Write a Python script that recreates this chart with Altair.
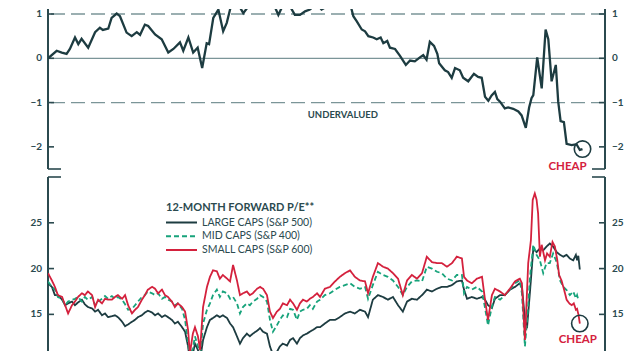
import altair as alt
import pandas as pd

# ---------------- data ----------------
# top panel: relative valuation indicator (z-score)
TOP_YEARS = [
    2004.20, 2004.49, 2004.66, 2004.82, 2004.93, 2005.10, 2005.21, 2005.32, 2005.54, 2005.77,
    2005.93, 2006.03, 2006.21, 2006.32, 2006.49, 2006.60, 2006.82, 2006.99, 2007.16, 2007.27,
    2007.43, 2007.54, 2007.77, 2007.99, 2008.21, 2008.38, 2008.60, 2008.71, 2008.88, 2009.04,
    2009.19, 2009.34, 2009.49, 2009.57, 2009.71, 2009.88, 2010.04, 2010.16, 2010.32, 2010.43,
    2010.71, 2010.88, 2011.16, 2011.43, 2011.71, 2011.88, 2012.04, 2012.27, 2012.43, 2012.60,
    2012.77, 2012.93, 2013.16, 2013.32, 2013.60, 2013.93, 2014.27, 2014.38, 2014.49, 2014.66,
    2014.77, 2014.88, 2015.04, 2015.16, 2015.29, 2015.38, 2015.51, 2015.60, 2015.77, 2015.93,
    2016.13, 2016.27, 2016.43, 2016.60, 2016.71, 2016.82, 2016.93, 2017.07, 2017.18, 2017.24,
    2017.43, 2017.54, 2017.66, 2017.77, 2017.93, 2018.04, 2018.21, 2018.40, 2018.54, 2018.66,
    2018.77, 2018.88, 2018.99, 2019.10, 2019.18, 2019.27, 2019.43, 2019.54, 2019.71, 2019.88,
    2019.99, 2020.13, 2020.24, 2020.32, 2020.38, 2020.51, 2020.66, 2020.79, 2020.88, 2020.99,
    2021.13, 2021.21, 2021.29, 2021.40, 2021.49, 2021.66, 2021.82, 2021.93, 2022.02,
]
TOP_Z = [
    0.00, 0.17, 0.13, 0.10, 0.21, 0.47, 0.32, 0.44, 0.24, 0.59,
    0.69, 0.64, 0.67, 0.91, 1.01, 0.95, 0.58, 0.50, 0.59, 0.53,
    0.76, 0.73, 0.54, 0.43, 0.13, 0.21, 0.36, 0.17, 0.47, 0.13,
    0.24, -0.22, 0.34, 0.32, 0.91, 1.10, 0.61, 0.80, 1.24, 1.35,
    1.02, 1.17, 1.23, 1.30, 1.24, 0.98, 1.21, 1.17, 0.98, 0.98,
    1.06, 1.10, 1.24, 1.10, 1.21, 1.35, 1.24, 0.95, 0.84, 0.65,
    0.61, 0.50, 0.47, 0.43, 0.47, 0.34, 0.39, 0.24, 0.21, 0.06,
    -0.15, -0.05, -0.07, 0.02, 0.07, -0.03, 0.37, 0.28, 0.10, -0.11,
    -0.27, -0.31, -0.44, -0.22, -0.27, -0.44, -0.52, -0.35, -0.42, -0.44,
    -0.87, -0.96, -0.84, -0.76, -0.92, -0.98, -1.13, -1.11, -1.14, -1.20,
    -1.29, -1.57, -1.11, -0.90, -0.83, 0.02, -0.68, 0.65, 0.43, -0.52,
    -0.15, -0.98, -1.42, -1.44, -1.93, -1.96, -1.94, -2.07, -2.05,
]
TOP_TICKS = [-2, -1, 0, 1]
TOP_DOMAIN = [-2.5, 1.113]
ZERO_LEVEL = [0]
BAND_LEVELS = [-1, 1]
BAND_LABELS = ["UNDERVALUED"]
BAND_LABEL_YEAR = [2014.03]
BAND_LABEL_Z = [-1.27]

# bottom panel: 12-month forward P/E
YEARS_A = [
    2004.20, 2004.33, 2004.43, 2004.53, 2004.67, 2004.77, 2004.87, 2005.00, 2005.10, 2005.20,
    2005.33, 2005.43, 2005.53, 2005.67, 2005.77, 2005.87, 2006.00, 2006.10, 2006.20, 2006.33,
    2006.43, 2006.53, 2006.67, 2006.77, 2006.87, 2007.00, 2007.10, 2007.20, 2007.33, 2007.43,
    2007.53, 2007.67, 2007.77, 2007.87, 2008.00, 2008.10, 2008.20, 2008.33, 2008.43, 2008.53,
    2008.67, 2008.77, 2008.87, 2008.93, 2009.03, 2009.10, 2009.20, 2009.27, 2009.37, 2009.50,
    2009.60, 2009.70, 2009.83, 2009.93, 2010.03, 2010.17, 2010.27, 2010.37, 2010.50, 2010.60,
    2010.70, 2010.83, 2010.93, 2011.03, 2011.17, 2011.27, 2011.37, 2011.50, 2011.60, 2011.70,
    2011.83, 2011.93, 2012.03, 2012.17, 2012.27, 2012.37, 2012.50, 2012.60, 2012.70, 2012.83,
    2012.93, 2013.03, 2013.17,
]
YEARS_B = [
    2013.27, 2013.43, 2013.60, 2013.77, 2013.93, 2014.10, 2014.27, 2014.43, 2014.60, 2014.77,
    2014.87, 2015.03, 2015.20, 2015.37, 2015.53, 2015.70, 2015.87, 2016.03, 2016.17, 2016.33,
    2016.50, 2016.67, 2016.83, 2017.00, 2017.17, 2017.33, 2017.50, 2017.67, 2017.83, 2018.00,
    2018.07, 2018.17, 2018.33, 2018.50, 2018.67, 2018.77, 2018.87, 2019.00, 2019.10, 2019.27,
    2019.43, 2019.60, 2019.77, 2019.93, 2020.00,
]
LARGE_A = [
    18.4, 18.0, 17.1, 17.1, 16.6, 16.0, 16.2, 16.4, 16.0, 16.3,
    16.6, 16.1, 15.8, 15.65, 15.3, 15.5, 14.9, 15.1, 14.7, 14.8,
    14.9, 14.7, 14.2, 13.7, 13.9, 14.2, 14.4, 14.7, 14.9, 15.2,
    15.4, 15.2, 14.9, 15.1, 14.7, 14.9, 14.7, 14.4, 14.0, 14.2,
    13.6, 13.1, 11.5, 10.0, 10.7, 11.8, 11.1, 10.0, 12.2, 13.6,
    14.4, 14.6, 14.9, 14.7, 14.9, 14.6, 14.0, 13.6, 12.6, 11.8,
    12.4, 12.9, 12.6, 12.9, 13.2, 13.5, 13.1, 12.9, 11.5, 10.6,
    10.9, 11.5, 11.8, 11.6, 12.2, 12.4, 11.8, 12.4, 12.7, 12.9,
    13.1, 13.3, 13.6,
]
LARGE_B = [
    13.6, 14.0, 14.4, 14.4, 14.7, 15.1, 15.3, 15.1, 15.5, 15.3,
    14.7, 16.6, 17.1, 16.9, 16.6, 16.9, 16.0, 15.3, 16.4, 16.7,
    16.6, 17.1, 17.7, 17.5, 17.8, 18.0, 18.0, 18.2, 18.6, 18.7,
    17.7, 16.7, 16.9, 16.7, 16.9, 16.6, 16.0, 15.7, 16.7, 17.1,
    17.1, 17.7, 18.0, 18.4, 18.0,
]
LARGE_TAIL_YEARS = [
    2020.10, 2020.17, 2020.27, 2020.38, 2020.49, 2020.60, 2020.71, 2020.82, 2020.93, 2021.04,
    2021.16, 2021.27, 2021.38, 2021.49, 2021.60, 2021.71, 2021.80, 2021.84, 2021.88, 2021.93,
]
LARGE_TAIL = [
    14.5, 13.5, 17.5, 22.2, 21.8, 22.2, 22.0, 22.4, 22.75, 22.4,
    21.8, 21.5, 21.3, 21.5, 21.1, 20.9, 21.5, 20.9, 21.4, 19.9,
]
MID_A = [
    18.6, 18.0, 17.7, 16.9, 16.7, 16.0, 16.4, 16.6, 16.7, 16.9,
    16.4, 16.9, 16.6, 16.9, 16.0, 16.4, 16.7, 17.0, 16.7, 17.0,
    16.7, 16.9, 16.6, 16.1, 15.5, 15.6, 16.0, 16.4, 16.9, 17.1,
    17.5, 17.3, 17.1, 17.3, 16.7, 16.9, 16.6, 16.4, 16.0, 16.2,
    15.6, 14.4, 11.8, 10.4, 11.3, 12.6, 11.5, 10.4, 14.0, 15.5,
    16.2, 17.1, 17.7, 16.9, 17.5, 17.3, 16.7, 16.9, 16.2, 15.1,
    15.8, 16.2, 16.0, 16.4, 16.7, 17.1, 16.9, 16.4, 14.4, 13.1,
    13.8, 14.4, 14.9, 14.7, 15.6, 15.5, 14.4, 15.3, 15.5, 15.6,
    16.0, 15.6, 16.4,
]
MID_B = [
    16.6, 17.1, 17.3, 17.7, 18.0, 18.2, 18.4, 18.0, 17.8, 18.0,
    16.7, 18.2, 19.65, 19.3, 19.1, 18.7, 18.0, 17.1, 18.0, 18.6,
    18.7, 18.6, 20.2, 20.0, 19.65, 19.5, 18.9, 18.7, 19.3, 19.3,
    17.3, 18.0, 17.7, 18.0, 17.5, 15.7, 13.8, 15.9, 16.9, 16.6,
    17.1, 17.7, 18.4, 18.7, 17.3,
]
MID_TAIL_YEARS = [
    2020.10, 2020.20, 2020.27, 2020.38, 2020.49, 2020.60, 2020.71, 2020.82, 2020.93, 2021.04,
    2021.16, 2021.27, 2021.38, 2021.49, 2021.60, 2021.71, 2021.80, 2021.84, 2021.88,
]
MID_TAIL = [
    11.5, 15.5, 19.1, 22.6, 21.5, 20.9, 19.5, 20.6, 20.6, 21.65,
    20.7, 18.7, 18.0, 17.65, 17.1, 17.5, 16.75, 17.1, 16.6,
]
SMALL_A = [
    19.5, 18.7, 18.0, 17.1, 16.9, 16.0, 15.1, 16.0, 16.4, 16.9,
    17.3, 17.1, 17.5, 17.1, 15.8, 16.6, 16.2, 16.7, 16.6, 16.6,
    16.9, 17.1, 16.7, 17.1, 16.0, 15.1, 15.5, 15.8, 16.6, 17.1,
    17.7, 18.0, 17.8, 17.3, 17.7, 17.1, 16.9, 16.4, 15.8, 16.2,
    15.8, 15.3, 13.3, 10.7, 12.9, 13.6, 12.6, 11.1, 15.8, 18.0,
    19.1, 19.8, 19.7, 18.9, 19.3, 18.9, 18.6, 20.4, 18.7, 17.1,
    17.3, 17.5, 17.1, 17.3, 17.8, 18.0, 17.8, 17.1, 15.3, 14.6,
    15.3, 15.6, 16.2, 16.0, 16.6, 16.2, 15.5, 16.2, 16.6, 16.4,
    16.7, 16.9, 17.3,
]
SMALL_B = [
    16.9, 17.8, 18.0, 18.6, 19.1, 19.5, 19.8, 19.1, 18.7, 18.6,
    17.3, 19.1, 20.6, 20.2, 20.0, 19.5, 18.9, 17.1, 18.7, 19.3,
    18.9, 19.5, 21.3, 20.7, 20.6, 20.6, 20.2, 20.6, 21.3, 21.1,
    19.1, 18.7, 18.4, 18.9, 19.1, 16.6, 14.4, 17.1, 17.8, 17.5,
    17.1, 17.8, 18.6, 18.9, 18.4,
]
SMALL_TAIL_YEARS = [
    2020.10, 2020.13, 2020.21, 2020.30, 2020.36, 2020.43, 2020.49, 2020.54, 2020.60, 2020.66,
    2020.77, 2020.84, 2020.93, 2021.02, 2021.10, 2021.18, 2021.24, 2021.32, 2021.41, 2021.49,
    2021.58, 2021.66, 2021.73, 2021.80, 2021.84, 2021.89, 2021.93,
]
SMALL_TAIL = [
    12.2, 14.4, 20.6, 23.1, 27.5, 28.2, 27.5, 26.0, 21.3, 22.6,
    20.9, 21.65, 21.3, 22.9, 22.4, 20.9, 19.3, 18.7, 17.65, 16.6,
    16.2, 16.0, 16.2, 15.5, 15.6, 14.9, 14.0,
]
SERIES = ["LARGE CAPS (S&P 500)", "MID CAPS (S&P 400)", "SMALL CAPS (S&P 600)"]
LEGEND_TITLE = "12-MONTH FORWARD P/E**"
BOTTOM_TICKS = [15, 20, 25]
BOTTOM_DOMAIN = [11, 30]
X_DOMAIN = [2004.2, 2022.77]
CHEAP_LABEL = "CHEAP"

# ---------------- style ----------------
FONT = "Lato"
AXIS = "#2b4a4f"
GRID = "#7b9598"
DARK = "#1d3c41"
COLORS = ["#1d3c41", "#17a37b", "#d4213d"]
DASHES = [[1, 0], [5, 3], [1, 0]]
RED = "#d4213d"
W, H_TOP, H_BOT = 557, 160, 174


def xq():
    return alt.X("year:Q", scale=alt.Scale(domain=X_DOMAIN, nice=False, zero=False), axis=None)


def yq(field, domain):
    return alt.Y(f"{field}:Q", scale=alt.Scale(domain=domain, nice=False, zero=False), axis=None)


def frame_layers(ticks, field, domain):
    """Axis lines, inward ticks and tick labels on both sides, drawn through the y scale."""
    ends = pd.DataFrame({"lo": [domain[0]], "hi": [domain[1]]})
    tdf = pd.DataFrame({field: ticks})
    layers = []
    for x in (0, W):
        layers.append(
            alt.Chart(ends).mark_rule(color=AXIS, strokeWidth=2)
            .encode(x=alt.value(x), y=alt.Y("lo:Q", scale=alt.Scale(domain=domain, nice=False, zero=False), axis=None),
                    y2="hi:Q"))
    for x0, x1 in ((0, 6), (W - 6, W)):
        layers.append(
            alt.Chart(tdf).mark_rule(color=AXIS, strokeWidth=1.6)
            .encode(y=yq(field, domain), x=alt.value(x0), x2=alt.value(x1)))
    layers.append(
        alt.Chart(tdf).mark_text(align="right", baseline="middle", font=FONT, fontSize=10,
                                 fontWeight="bold", color=AXIS)
        .encode(y=yq(field, domain), x=alt.value(-6), text=alt.Text(f"{field}:Q", format="d")))
    layers.append(
        alt.Chart(tdf).mark_text(align="left", baseline="middle", font=FONT, fontSize=10,
                                 fontWeight="bold", color=AXIS)
        .encode(y=yq(field, domain), x=alt.value(W + 7), text=alt.Text(f"{field}:Q", format="d")))
    return layers


def end_ticks(value, field, domain):
    df = pd.DataFrame({field: [value]})
    return [
        alt.Chart(df).mark_rule(color=AXIS, strokeWidth=1.6)
        .encode(y=yq(field, domain), x=alt.value(x0), x2=alt.value(x1))
        for x0, x1 in ((0, 13), (W - 13, W))
    ]


# ---------------- top panel ----------------
top_df = pd.DataFrame({"year": TOP_YEARS, "z": TOP_Z})
top_last = top_df.tail(1)
under_df = pd.DataFrame({"year": BAND_LABEL_YEAR, "z": BAND_LABEL_Z, "label": BAND_LABELS})

top_layers = [
    alt.Chart(pd.DataFrame({"z": ZERO_LEVEL})).mark_rule(color=GRID, strokeWidth=1.3)
    .encode(y=yq("z", TOP_DOMAIN)),
    alt.Chart(pd.DataFrame({"z": BAND_LEVELS})).mark_rule(color=GRID, strokeWidth=1.3, strokeDash=[14, 6])
    .encode(y=yq("z", TOP_DOMAIN)),
]
top_layers += frame_layers(TOP_TICKS, "z", TOP_DOMAIN)
top_layers += end_ticks(TOP_DOMAIN[0], "z", TOP_DOMAIN)
top_layers += [
    alt.Chart(top_df).mark_line(color=DARK, strokeWidth=2.3, clip=True)
    .encode(x=xq(), y=yq("z", TOP_DOMAIN)),
    alt.Chart(under_df).mark_text(font=FONT, fontSize=9.5, fontWeight="bold", color=AXIS)
    .encode(x=xq(), y=yq("z", TOP_DOMAIN), text="label:N"),
    alt.Chart(top_last).mark_point(shape="circle", filled=False, size=270, color=DARK, strokeWidth=1.6, opacity=1)
    .encode(x=xq(), y=yq("z", TOP_DOMAIN)),
    alt.Chart(top_last).mark_text(text=CHEAP_LABEL, font=FONT, fontSize=11.5, fontWeight="bold",
                                  color=RED, dx=-15, dy=18)
    .encode(x=xq(), y=yq("z", TOP_DOMAIN)),
]
top = alt.layer(*top_layers).properties(width=W, height=H_TOP)

# ---------------- bottom panel ----------------
parts = [
    (YEARS_A + YEARS_B + LARGE_TAIL_YEARS, LARGE_A + LARGE_B + LARGE_TAIL),
    (YEARS_A + YEARS_B + MID_TAIL_YEARS, MID_A + MID_B + MID_TAIL),
    (YEARS_A + YEARS_B + SMALL_TAIL_YEARS, SMALL_A + SMALL_B + SMALL_TAIL),
]
frames = [pd.DataFrame({"year": yrs, "pe": vals, "series": name}) for (yrs, vals), name in zip(parts, SERIES)]
pe_df = pd.concat(frames, ignore_index=True)
small_last = frames[2].tail(1)

bottom_layers = frame_layers(BOTTOM_TICKS, "pe", BOTTOM_DOMAIN)
bottom_layers += end_ticks(BOTTOM_DOMAIN[1], "pe", BOTTOM_DOMAIN)
for i, name in enumerate(SERIES):
    bottom_layers.append(
        alt.Chart(pe_df).transform_filter(alt.datum.series == name)
        .mark_line(color=COLORS[i], strokeWidth=1.8, strokeDash=DASHES[i], clip=True)
        .encode(x=xq(), y=yq("pe", BOTTOM_DOMAIN))
    )
bottom_layers += [
    alt.Chart(small_last).mark_point(shape="circle", filled=False, size=270, color=DARK, strokeWidth=1.6, opacity=1)
    .encode(x=xq(), y=yq("pe", BOTTOM_DOMAIN)),
    alt.Chart(small_last).mark_text(text=CHEAP_LABEL, font=FONT, fontSize=11.5, fontWeight="bold",
                                    color=RED, dx=-2, dy=16)
    .encode(x=xq(), y=yq("pe", BOTTOM_DOMAIN)),
]
# legend (drawn inside the plot)
bottom_layers.append(
    alt.Chart(pd.DataFrame({"t": [LEGEND_TITLE]})).mark_text(
        font=FONT, fontSize=11, fontWeight="bold", color=AXIS, align="left", baseline="middle")
    .encode(text="t:N", x=alt.value(118), y=alt.value(30.5)))
for i, name in enumerate(SERIES):
    yy = 45.5 + 13.7 * i
    bottom_layers.append(
        alt.Chart(pd.DataFrame({"s": [name]})).mark_rule(color=COLORS[i], strokeWidth=2, strokeDash=DASHES[i])
        .encode(x=alt.value(118), x2=alt.value(149), y=alt.value(yy)))
    bottom_layers.append(
        alt.Chart(pd.DataFrame({"s": [name]})).mark_text(font=FONT, fontSize=10.5, color=AXIS,
                                                          align="left", baseline="middle")
        .encode(text="s:N", x=alt.value(154), y=alt.value(yy)))

bottom = alt.layer(*bottom_layers).properties(width=W, height=H_BOT)

chart = alt.vconcat(top, bottom, spacing=8, bounds="flush").properties(
    padding={"left": 22, "top": 0, "right": 0, "bottom": 0}, background="white"
).configure_view(stroke=None)

chart.save("out.html", embed_options={"renderer": "svg", "actions": False})
